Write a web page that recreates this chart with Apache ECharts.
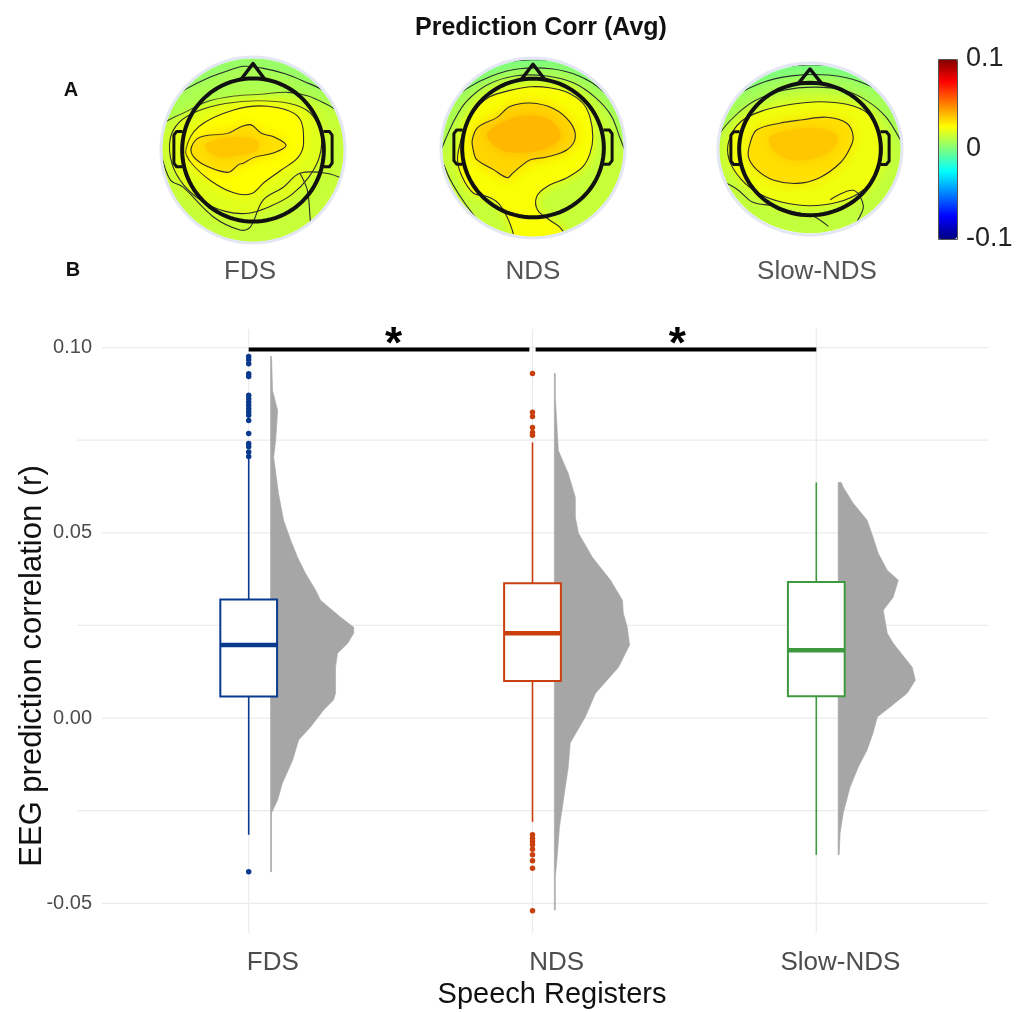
<!DOCTYPE html>
<html>
<head>
<meta charset="utf-8">
<script src="https://cdn.jsdelivr.net/npm/echarts@6/dist/echarts.min.js"></script>
<style>
  html, body { margin: 0; padding: 0; background: #fff; }
  #chart { width: 1021px; height: 1012px; }
</style>
</head>
<body>
<div id="chart"></div>
<script>
// ---------- Panel B data ----------
const registers = ['FDS', 'NDS', 'Slow-NDS'];
const registerColors = ['#0a3a8e', '#c9400e', '#3f9a3f'];

// box statistics: [lower whisker, Q1, median, Q3, upper whisker]
const boxFDS = [-0.0315, 0.0058, 0.0197, 0.0320, 0.0701];
const boxNDS = [-0.0280, 0.0100, 0.0229, 0.0364, 0.0744];
const boxSlow = [-0.0369, 0.0059, 0.0183, 0.0367, 0.0636];

// outlying electrodes
const outFDS = [0.0976, 0.0967, 0.0956, 0.0929, 0.0922, 0.0871, 0.0862, 0.0853, 0.0844, 0.0835,
                0.0826, 0.0817, 0.0803, 0.0768, 0.0741, 0.0732, 0.0718, 0.0706, -0.0415];
const outNDS = [0.0930, 0.0825, 0.0814, 0.0784, 0.0771, 0.0763,
                -0.0315, -0.0324, -0.0333, -0.0342, -0.0354, -0.0369, -0.0385, -0.0405, -0.0520];
const outSlow = [];

// half-violin density profiles: [r, half width in category units]
const densFDS = [[0.0976, 0.0035], [0.0884, 0.007], [0.0830, 0.025], [0.0749, 0.018], [0.0704, 0.011],
  [0.0606, 0.028], [0.0534, 0.046], [0.0480, 0.071], [0.0434, 0.095], [0.0391, 0.123], [0.0345, 0.159],
  [0.0318, 0.176], [0.0272, 0.247], [0.0245, 0.293], [0.0229, 0.293], [0.0202, 0.272], [0.0175, 0.236],
  [0.0137, 0.229], [0.0067, 0.229], [0.0049, 0.222], [0.0022, 0.187], [-0.0024, 0.141], [-0.0059, 0.099],
  [-0.0113, 0.078], [-0.0175, 0.042], [-0.0221, 0.025], [-0.0256, 0.0035], [-0.0415, 0.0035]];
const densNDS = [[0.0930, 0.0035], [0.0865, 0.0035], [0.0722, 0.014], [0.0660, 0.049], [0.0596, 0.074],
  [0.0542, 0.074], [0.0499, 0.085], [0.0434, 0.134], [0.0372, 0.198], [0.0318, 0.240], [0.0283, 0.243],
  [0.0245, 0.257], [0.0197, 0.265], [0.0137, 0.226], [0.0067, 0.145], [0.0003, 0.109], [-0.0067, 0.056],
  [-0.0132, 0.049], [-0.0221, 0.032], [-0.0294, 0.018], [-0.0364, 0.011], [-0.0429, 0.0035], [-0.0518, 0.0035]];
const densSlow = [[0.0636, 0.011], [0.0623, 0.018], [0.0580, 0.053], [0.0534, 0.102], [0.0488, 0.123],
  [0.0445, 0.141], [0.0399, 0.173], [0.0372, 0.212], [0.0326, 0.194], [0.0291, 0.159], [0.0229, 0.173],
  [0.0202, 0.194], [0.0137, 0.261], [0.0102, 0.272], [0.0067, 0.243], [0.0030, 0.183], [0.0003, 0.138],
  [-0.0040, 0.123], [-0.0086, 0.102], [-0.0132, 0.071], [-0.0186, 0.042], [-0.0256, 0.018],
  [-0.0310, 0.007], [-0.0369, 0.0035]];

const yTickValues = [-0.05, 0, 0.05, 0.10];
const yGridValues = [-0.05, -0.025, 0, 0.025, 0.05, 0.075, 0.10];

// significance brackets between registers (index pairs), drawn at r = sigLevel
const sigPairs = [[0, 1], [1, 2]];
const sigLabels = ['*', '*'];
const sigLevel = 0.0995;

// ---------- Panel A data ----------
const colorbarTicks = [0.1, 0, -0.1];
const topoBase = [0.014, 0.014, 0.013];

// contour regions in scalp units (disc radius 1, +y towards the nose): [level r, boundary, kind]
// kind 'rim': open boundary closed along the scalp edge; 'closed': closed iso-line; 'core': unlined peak
const topoFDS = [
  [0.009, [[-1.1, 0.22], [-0.95, 0.3], [-0.75, 0.4], [-0.5, 0.52], [-0.2, 0.58], [0.1, 0.6], [0.38, 0.62],
           [0.6, 0.58], [0.82, 0.48], [1.0, 0.42]], 'rim'],
  [0.005, [[-1.0, 0.45], [-0.9, 0.56], [-0.72, 0.66], [-0.5, 0.77], [-0.28, 0.85], [-0.1, 0.9], [0.1, 0.88],
           [0.35, 0.82], [0.55, 0.74], [0.8, 0.62], [0.9, 0.5]], 'rim'],
  [0.019, [[-0.9, 0.12], [-0.8, 0.3], [-0.6, 0.42], [-0.3, 0.5], [0.05, 0.53], [0.4, 0.5], [0.62, 0.4],
           [0.74, 0.18], [0.72, -0.08], [0.6, -0.3], [0.42, -0.48], [0.2, -0.6], [-0.05, -0.68], [-0.3, -0.66],
           [-0.55, -0.55], [-0.75, -0.38], [-0.88, -0.15]], 'closed'],
  [0.025, [[-0.59, 0.25], [-0.21, 0.43], [0.16, 0.47], [0.49, 0.36], [0.55, 0.08], [0.49, -0.08], [0.30, -0.22],
           [0.12, -0.35], [-0.02, -0.47], [-0.21, -0.46], [-0.46, -0.33], [-0.67, -0.14], [-0.73, 0]], 'closed'],
  [0.031, [[-0.67, 0.03], [-0.57, 0.14], [-0.27, 0.18], [-0.13, 0.25], [-0.02, 0.27], [0.09, 0.18], [0.23, 0.14],
           [0.36, 0.05], [0.23, -0.03], [0.01, -0.08], [-0.10, -0.14], [-0.16, -0.16], [-0.27, -0.24],
           [-0.49, -0.18], [-0.64, -0.08]], 'closed'],
  [0.036, [[-0.52, 0.05], [-0.35, 0.12], [-0.15, 0.14], [0.05, 0.1], [0.05, 0.0], [-0.15, -0.06], [-0.4, -0.07]], 'core']
];
const topoNDS = [
  [0.009, [[-1.05, -0.1], [-0.95, 0.1], [-0.85, 0.32], [-0.72, 0.52], [-0.5, 0.7], [-0.2, 0.8], [0.15, 0.8],
           [0.45, 0.72], [0.68, 0.56], [0.85, 0.36], [0.95, 0.1], [1.05, -0.1]], 'rim'],
  [0.003, [[-1.0, 0.3], [-0.92, 0.48], [-0.72, 0.66], [-0.45, 0.8], [-0.15, 0.88], [0.2, 0.88], [0.5, 0.8],
           [0.75, 0.64], [0.92, 0.42], [1.05, 0.2]], 'rim'],
  [-0.004, [[-0.9, 0.6], [-0.75, 0.8], [-0.4, 0.93], [0, 0.98], [0.4, 0.95], [0.75, 0.82], [0.95, 0.6]], 'rim'],
  [0.024, [[0.35, -0.99], [0.29, -0.88], [0.18, -0.8], [0.05, -0.69], [0.04, -0.54], [0.15, -0.43], [0.37, -0.33],
           [0.54, -0.21], [0.62, -0.06], [0.65, 0.12], [0.62, 0.34], [0.54, 0.5], [0.37, 0.62], [0.18, 0.67],
           [-0.03, 0.68], [-0.25, 0.64], [-0.47, 0.57], [-0.6, 0.46], [-0.72, 0.28], [-0.79, 0.06], [-0.82, -0.13],
           [-0.77, -0.32], [-0.65, -0.5], [-0.5, -0.54], [-0.38, -0.61], [-0.28, -0.77], [-0.22, -0.93],
           [-0.2, -1.05]], 'rim'],
  [0.033, [[-0.66, 0.09], [-0.60, 0.23], [-0.39, 0.34], [-0.25, 0.46], [-0.03, 0.5], [0.22, 0.44], [0.40, 0.29],
           [0.46, 0.12], [0.37, -0.02], [0.15, -0.1], [-0.03, -0.13], [-0.14, -0.21], [-0.22, -0.28],
           [-0.28, -0.33], [-0.43, -0.24], [-0.61, -0.13], [-0.65, -0.02]], 'closed'],
  [0.039, [[-0.5, 0.15], [-0.3, 0.3], [-0.05, 0.36], [0.2, 0.3], [0.3, 0.12], [0.15, 0.0], [-0.1, -0.05],
           [-0.35, -0.02]], 'core']
];
const topoSlow = [
  [0.008, [[-1.05, 0.0], [-0.98, 0.18], [-0.82, 0.38], [-0.6, 0.56], [-0.3, 0.68], [0.05, 0.72], [0.38, 0.68],
           [0.62, 0.56], [0.82, 0.38], [0.96, 0.15], [1.05, 0.0]], 'rim'],
  [0.002, [[-1.0, 0.35], [-0.85, 0.58], [-0.55, 0.76], [-0.2, 0.85], [0.2, 0.86], [0.55, 0.78], [0.85, 0.6],
           [1.0, 0.4]], 'rim'],
  [-0.004, [[-0.85, 0.62], [-0.7, 0.8], [-0.3, 0.95], [0.2, 0.97], [0.6, 0.88], [0.8, 0.7]], 'rim'],
  [0.022, [[-0.88, 0.1], [-0.75, 0.32], [-0.5, 0.45], [-0.2, 0.52], [0.1, 0.55], [0.4, 0.52], [0.62, 0.42],
           [0.75, 0.2], [0.78, -0.05], [0.72, -0.3], [0.55, -0.5], [0.3, -0.62], [0, -0.66], [-0.3, -0.62],
           [-0.55, -0.52], [-0.75, -0.35], [-0.88, -0.12]], 'closed'],
  [0.031, [[-0.65, 0.07], [-0.58, 0.22], [-0.33, 0.30], [-0.08, 0.34], [0.18, 0.37], [0.40, 0.30], [0.47, 0.14],
           [0.43, 0], [0.33, -0.16], [0.11, -0.33], [-0.14, -0.40], [-0.40, -0.36], [-0.58, -0.24], [-0.67, -0.09]], 'closed'],
  [0.036, [[-0.45, 0.12], [-0.2, 0.22], [0.1, 0.24], [0.3, 0.15], [0.25, 0.0], [0.0, -0.12], [-0.3, -0.1]], 'core']
];
// open iso-lines that run out to the scalp edge
const linesFDS = [
  [[-1.0, -0.03], [-0.9, -0.32], [-0.76, -0.4], [-0.43, -0.72], [-0.14, -0.86], [-0.03, -0.83], [0.11, -0.54],
   [0.33, -0.4], [0.51, -0.25], [0.8, -0.25], [1.0, -0.32]],
  [[0.51, -0.25], [0.59, -0.43], [0.62, -0.72], [0.64, -1.0]]
];
const linesNDS = [
  [[-1.0, -0.1], [-0.9, -0.35], [-0.75, -0.6], [-0.6, -0.8]]
];
const linesSlow = [
  [[-1.0, -0.35], [-0.79, -0.47], [-0.62, -0.62], [-0.4, -0.66], [-0.18, -0.73], [0.03, -0.78], [0.2, -0.9]],
  [[0.22, -0.59], [0.47, -0.48], [0.58, -0.66], [0.51, -0.85], [0.45, -1.0]]
];

// ---------- layout ----------
const FONT = 'Liberation Sans, Arial, sans-serif';
const boxNudge = -0.085, boxWidth = 0.2, violinNudge = -0.008;
const topoLayout = [
  { cx: 253, cy: 150, rx: 92, ry: 93 },
  { cx: 533, cy: 148, rx: 92, ry: 90 },
  { cx: 810, cy: 149, rx: 92, ry: 86 }
];
const jetColors = ['#00007f', '#0000ff', '#007fff', '#00ffff', '#7fff7f', '#ffff00', '#ff7f00', '#ff0000', '#7f0000'];

const boxes = [boxFDS, boxNDS, boxSlow];
const outliers = [outFDS, outNDS, outSlow];
const densities = [densFDS, densNDS, densSlow];
const topoRegions = [topoFDS, topoNDS, topoSlow];
const topoLines = [linesFDS, linesNDS, linesSlow];

function ellipsePts(r, n) {
  const pts = [];
  for (let i = 0; i < n; i++) {
    const a = 2 * Math.PI * i / n;
    pts.push([r * Math.cos(a), r * Math.sin(a)]);
  }
  return pts;
}
function clampR(p, R) {
  const d = Math.hypot(p[0], p[1]);
  return d > R ? [p[0] * R / d, p[1] * R / d] : p;
}
// close an open iso-line by following the scalp edge counter-clockwise from its end back to its start
function rimClose(pts, R) {
  const s = pts[0], e = pts[pts.length - 1];
  const a0 = Math.atan2(e[1], e[0]);
  let a1 = Math.atan2(s[1], s[0]);
  while (a1 <= a0) a1 += 2 * Math.PI;
  const out = pts.map(p => clampR(p, R));
  const n = Math.ceil((a1 - a0) / 0.08);
  for (let i = 1; i < n; i++) {
    const a = a0 + (a1 - a0) * i / n;
    out.push([R * Math.cos(a), R * Math.sin(a)]);
  }
  return out;
}

const chart = echarts.init(document.getElementById('chart'), null, { renderer: 'canvas' });

const grids = [{ left: 77, right: 33, top: 329, bottom: 79 }];
const xAxes = [{
  type: 'value', gridIndex: 0, min: 0.31, max: 3.52,
  axisLine: { show: false },
  splitLine: { show: false },
  axisTick: { show: true, customValues: [1, 2, 3], length: 5, lineStyle: { color: '#d9d9d9' } },
  axisLabel: {
    customValues: [1, 2, 3], margin: 17,
    formatter: v => registers[Math.round(v) - 1],
    color: '#4d4d4d', fontSize: 26, fontFamily: FONT
  }
}];
const yAxes = [{
  type: 'value', gridIndex: 0, min: -0.058, max: 0.105, z: 3,
  axisLine: { show: false }, axisTick: { show: false }, splitLine: { show: false },
  axisLabel: {
    customValues: yTickValues, margin: -25,
    formatter: v => v.toFixed(2),
    color: '#4d4d4d', fontSize: 20, fontFamily: FONT,
    backgroundColor: '#fff', padding: [2, 10, 2, 2]
  }
}];
topoLayout.forEach((t, i) => {
  grids.push({ left: t.cx - t.rx, top: t.cy - t.ry, width: 2 * t.rx, height: 2 * t.ry });
  xAxes.push({ type: 'value', gridIndex: i + 1, min: -1, max: 1, show: false });
  yAxes.push({ type: 'value', gridIndex: i + 1, min: -1, max: 1, show: false });
});

const series = [];

// light panel grid
series.push({
  type: 'custom', xAxisIndex: 0, yAxisIndex: 0, z: 1, silent: true,
  data: [[1, 0]],
  renderItem(params, api) {
    const children = [];
    const x0 = api.coord([0.31, 0])[0], x1 = api.coord([3.52, 0])[0];
    yGridValues.forEach(v => {
      const y = api.coord([1, v])[1];
      children.push({ type: 'line', shape: { x1: x0, y1: y, x2: x1, y2: y }, style: { stroke: '#ebebeb', lineWidth: 1.2 } });
    });
    const yTop = api.coord([1, 0.105])[1], yBot = api.coord([1, -0.058])[1];
    registers.forEach((r, i) => {
      const x = api.coord([i + 1 + boxNudge, 0])[0];
      children.push({ type: 'line', shape: { x1: x, y1: yTop, x2: x, y2: yBot }, style: { stroke: '#ebebeb', lineWidth: 1.2 } });
    });
    return { type: 'group', children };
  }
});

// half violins
series.push({
  type: 'custom', xAxisIndex: 0, yAxisIndex: 0, z: 2, silent: true,
  data: registers.map((r, i) => [i + 1 + violinNudge, 0]),
  renderItem(params, api) {
    const x0 = api.value(0);
    const dens = densities[params.dataIndex];
    const pts = dens.map(d => api.coord([x0 + d[1], d[0]]));
    pts.push(api.coord([x0, dens[dens.length - 1][0]]));
    pts.push(api.coord([x0, dens[0][0]]));
    return { type: 'polygon', shape: { points: pts }, style: { fill: '#a6a6a6', stroke: '#a6a6a6', lineWidth: 0.6 } };
  }
});

// boxes with whiskers
series.push({
  type: 'custom', xAxisIndex: 0, yAxisIndex: 0, z: 3, silent: true,
  data: boxes.map((b, i) => [i + 1 + boxNudge].concat(b)),
  renderItem(params, api) {
    const c = registerColors[params.dataIndex];
    const x = api.value(0);
    const xl = api.coord([x - boxWidth / 2, 0])[0], xr = api.coord([x + boxWidth / 2, 0])[0];
    const xm = api.coord([x, 0])[0];
    const yLw = api.coord([x, api.value(1)])[1];
    const yQ1 = api.coord([x, api.value(2)])[1];
    const yMed = api.coord([x, api.value(3)])[1];
    const yQ3 = api.coord([x, api.value(4)])[1];
    const yUw = api.coord([x, api.value(5)])[1];
    return {
      type: 'group', children: [
        { type: 'line', shape: { x1: xm, y1: yQ3, x2: xm, y2: yUw }, style: { stroke: c, lineWidth: 1.6 } },
        { type: 'line', shape: { x1: xm, y1: yQ1, x2: xm, y2: yLw }, style: { stroke: c, lineWidth: 1.6 } },
        { type: 'rect', shape: { x: xl, y: yQ3, width: xr - xl, height: yQ1 - yQ3 }, style: { fill: '#fff', stroke: c, lineWidth: 2 } },
        { type: 'line', shape: { x1: xl, y1: yMed, x2: xr, y2: yMed }, style: { stroke: c, lineWidth: 4.5 } }
      ]
    };
  }
});

// outliers
outliers.forEach((arr, i) => {
  series.push({
    type: 'scatter', xAxisIndex: 0, yAxisIndex: 0, z: 4, silent: true,
    symbol: 'circle', symbolSize: 5.5,
    itemStyle: { color: registerColors[i], opacity: 1 },
    data: arr.map(v => [i + 1 + boxNudge, v])
  });
});

// significance brackets
series.push({
  type: 'custom', xAxisIndex: 0, yAxisIndex: 0, z: 5, silent: true,
  data: sigPairs.map(p => [p[0], p[1], sigLevel]),
  renderItem(params, api) {
    const a = api.value(0), b = api.value(1), lev = api.value(2);
    const gap = 0.011;
    const xa = a + 1 + boxNudge + (a > 0 ? gap : 0);
    const xb = b + 1 + boxNudge - (b < registers.length - 1 ? gap : 0);
    const p1 = api.coord([xa, lev]), p2 = api.coord([xb, lev]);
    const pm = api.coord([(a + b) / 2 + 1 + boxNudge, lev]);
    return {
      type: 'group', children: [
        { type: 'line', shape: { x1: p1[0], y1: p1[1], x2: p2[0], y2: p2[1] }, style: { stroke: '#000', lineWidth: 4 } },
        { type: 'text', x: pm[0] + 3, y: pm[1] - 4, style: { text: sigLabels[params.dataIndex], fill: '#000',
          font: 'bold 44px ' + FONT, align: 'center', verticalAlign: 'middle' } }
      ]
    };
  }
});

// scalp maps
const fillSeriesIdx = [];
topoRegions.forEach((regions, t) => {
  const all = [[topoBase[t], null, 'base']].concat(regions);
  fillSeriesIdx.push(series.length);
  series.push({
    type: 'custom', xAxisIndex: t + 1, yAxisIndex: t + 1, z: 2, silent: true,
    data: all.map((r, i) => [r[0], i]),
    renderItem(params, api) {
      const reg = all[params.dataIndex];
      const kind = reg[2];
      let pts;
      if (kind === 'base') pts = ellipsePts(1.02, 96);
      else if (kind === 'rim') pts = rimClose(reg[1], 1.04);
      else pts = reg[1];
      const color = api.visual('color');
      return {
        type: 'polygon', z2: params.dataIndex,
        shape: { points: pts.map(p => api.coord(p)), smooth: kind === 'base' ? 0 : 0.35 },
        style: {
          fill: color,
          stroke: (kind === 'closed' || kind === 'rim') ? '#2b2b2b' : null, lineWidth: 1.1,
          shadowBlur: kind === 'base' ? 0 : (kind === 'rim' ? 8 : 14), shadowColor: color
        }
      };
    }
  });
  series.push({
    type: 'custom', xAxisIndex: t + 1, yAxisIndex: t + 1, z: 3, silent: true,
    data: [[0, 0]],
    renderItem(params, api) {
      const L = topoLayout[t];
      const children = [];
      topoLines[t].forEach(line => {
        children.push({ type: 'polyline', shape: { points: line.map(p => api.coord(p)), smooth: 0.35 },
          style: { stroke: '#2b2b2b', lineWidth: 1.1, fill: null } });
      });
      // white collar trimming everything outside the scalp disc
      children.push({ type: 'polygon', shape: { points: ellipsePts(1.14, 96).map(p => api.coord(p)) },
        style: { fill: null, stroke: '#fff', lineWidth: 0.28 * L.rx + 2 } });
      children.push({ type: 'polygon', shape: { points: ellipsePts(1.0, 96).map(p => api.coord(p)) },
        style: { fill: null, stroke: '#e3e7f3', lineWidth: 3 } });
      // head, nose and ears
      children.push({ type: 'polygon', shape: { points: ellipsePts(0.77, 96).map(p => api.coord(p)) },
        style: { fill: null, stroke: '#111', lineWidth: 4 } });
      children.push({ type: 'polyline', shape: { points: [[-0.13, 0.758], [0, 0.93], [0.13, 0.758]].map(p => api.coord(p)) },
        style: { stroke: '#111', lineWidth: 3.5, fill: null, lineJoin: 'round' } });
      [-1, 1].forEach(s => {
        const ear = [[0.765, 0.2], [0.83, 0.2], [0.86, 0.16], [0.86, -0.14], [0.83, -0.18], [0.765, -0.18]];
        children.push({ type: 'polyline', shape: { points: ear.map(p => api.coord([s * p[0], p[1]])) },
          style: { stroke: '#111', lineWidth: 3, fill: null, lineJoin: 'round' } });
      });
      return { type: 'group', children };
    }
  });
});

const graphics = [
  { type: 'text', z: 100, x: 541, y: 28, style: { text: 'Prediction Corr (Avg)', font: 'bold 25px ' + FONT, fill: '#111', align: 'center', verticalAlign: 'middle' } },
  { type: 'text', z: 100, x: 71, y: 90, style: { text: 'A', font: 'bold 20px ' + FONT, fill: '#111', align: 'center', verticalAlign: 'middle' } },
  { type: 'text', z: 100, x: 73, y: 270, style: { text: 'B', font: 'bold 20px ' + FONT, fill: '#111', align: 'center', verticalAlign: 'middle' } },
  { type: 'text', z: 100, x: 32, y: 666, rotation: Math.PI / 2, style: { text: 'EEG prediction correlation (r)', font: '31px ' + FONT, fill: '#111', align: 'center', verticalAlign: 'middle' } },
  { type: 'text', z: 100, x: 552, y: 995, style: { text: 'Speech Registers', font: '29px ' + FONT, fill: '#111', align: 'center', verticalAlign: 'middle' } },
  { type: 'rect', z: 100, shape: { x: 938.5, y: 59.5, width: 19, height: 180 }, style: { fill: null, stroke: '#555', lineWidth: 1 } }
];
const topoLabelX = [250, 533, 817];
registers.forEach((r, i) => {
  graphics.push({ type: 'text', z: 100, x: topoLabelX[i], y: 272, style: { text: r, font: '26px ' + FONT, fill: '#555', align: 'center', verticalAlign: 'middle' } });
});
colorbarTicks.forEach(v => {
  const y = 59 + (0.1 - v) / 0.2 * 180;
  graphics.push({ type: 'text', z: 100, x: 966, y: y, style: { text: String(v), font: '27px ' + FONT, fill: '#222', align: 'left', verticalAlign: 'middle' } });
});

chart.setOption({
  backgroundColor: '#fff',
  animation: false,
  grid: grids,
  xAxis: xAxes,
  yAxis: yAxes,
  visualMap: {
    type: 'continuous', min: -0.1, max: 0.1, dimension: 0, seriesIndex: fillSeriesIdx,
    inRange: { color: jetColors }, orient: 'vertical', left: 938, top: 59,
    itemWidth: 19, itemHeight: 180, padding: 0, calculable: false, text: null, hoverLink: false
  },
  graphic: { elements: graphics },
  series: series
});
</script>
</body>
</html>
